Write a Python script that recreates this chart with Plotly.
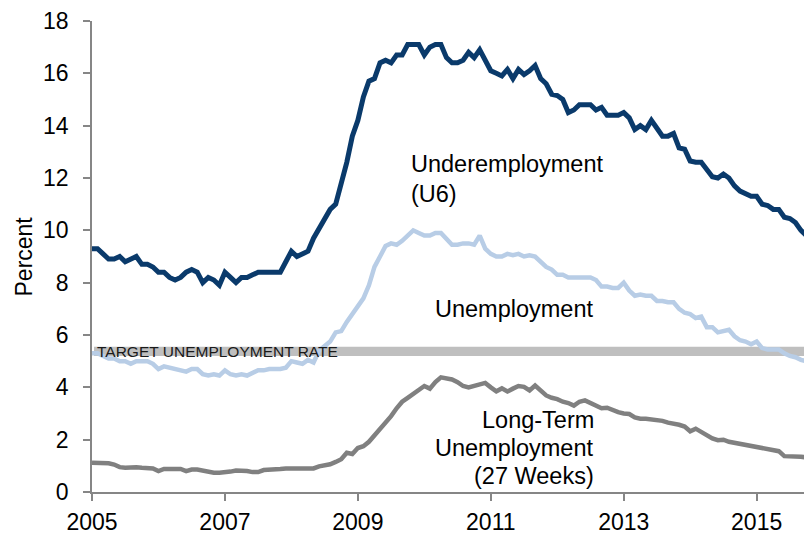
import plotly.graph_objects as go

start_year = 2005
months = list(range(131))  # Jan 2005 .. Nov 2015
x_vals = [start_year + m / 12 for m in months]

u6 = [
    9.3, 9.3, 9.1, 8.9, 8.9, 9.0, 8.8, 8.9, 9.0, 8.7, 8.7, 8.6,
    8.4, 8.4, 8.2, 8.1, 8.2, 8.4, 8.5, 8.4, 8.0, 8.2, 8.1, 7.9,
    8.4, 8.2, 8.0, 8.2, 8.2, 8.3, 8.4, 8.4, 8.4, 8.4, 8.4, 8.8,
    9.2, 9.0, 9.1, 9.2, 9.7, 10.1, 10.5, 10.8, 11.0, 11.8, 12.6, 13.6,
    14.2, 15.1, 15.7, 15.8, 16.4, 16.5, 16.4, 16.7, 16.7, 17.1, 17.1, 17.1,
    16.7, 17.0, 17.1, 17.1, 16.6, 16.4, 16.4, 16.5, 16.8, 16.6, 16.9, 16.5,
    16.1, 16.0, 15.9, 16.15, 15.8, 16.15, 15.95, 16.1, 16.3, 15.8, 15.6, 15.2,
    15.15, 15.0, 14.5, 14.6, 14.8, 14.8, 14.8, 14.6, 14.7, 14.4, 14.4, 14.4,
    14.5, 14.3, 13.85, 14.0, 13.85, 14.2, 13.9, 13.6, 13.6, 13.7, 13.15, 13.1,
    12.65, 12.6, 12.6, 12.3, 12.05, 12.0, 12.15, 12.0, 11.7, 11.5, 11.4, 11.3,
    11.3, 11.0, 10.95, 10.8, 10.8, 10.5, 10.45, 10.3, 10.0, 9.8, 9.85,
]

unemployment = [
    5.3, 5.3, 5.2, 5.1, 5.1, 5.0, 5.0, 4.9, 5.0, 5.0, 5.0, 4.9,
    4.7, 4.8, 4.75, 4.7, 4.65, 4.6, 4.7, 4.7, 4.5, 4.45, 4.5, 4.45,
    4.65, 4.5, 4.45, 4.5, 4.45, 4.55, 4.65, 4.65, 4.7, 4.7, 4.7, 4.75,
    5.0, 4.95, 4.9, 5.05, 4.95, 5.4, 5.6, 5.75, 6.1, 6.15, 6.5, 6.8,
    7.1, 7.4, 7.9, 8.6, 9.0, 9.4, 9.5, 9.45, 9.6, 9.8, 10.0, 9.9,
    9.8, 9.8, 9.9, 9.9, 9.7, 9.45, 9.45, 9.5, 9.5, 9.45, 9.8, 9.3,
    9.1, 9.0, 9.0, 9.1, 9.05, 9.1, 9.0, 9.05, 9.0, 8.8, 8.6, 8.5,
    8.3, 8.3, 8.2, 8.2, 8.2, 8.2, 8.2, 8.1, 7.85, 7.85, 7.8, 7.8,
    8.0, 7.7, 7.5, 7.55, 7.5, 7.5, 7.3, 7.3, 7.25, 7.25, 7.0, 6.85,
    6.8, 6.65, 6.7, 6.3, 6.3, 6.1, 6.15, 6.2, 5.95, 5.8, 5.75, 5.65,
    5.75, 5.5, 5.45, 5.45, 5.45, 5.3, 5.2, 5.15, 5.05, 5.0, 5.0,
]

long_term = [
    1.12, 1.12, 1.12, 1.10, 1.05, 0.95, 0.93, 0.95, 0.95, 0.93, 0.92, 0.90,
    0.80, 0.88, 0.88, 0.88, 0.88, 0.80, 0.86, 0.86, 0.82, 0.74, 0.74, 0.74,
    0.74, 0.78, 0.82, 0.82, 0.80, 0.76, 0.76, 0.84, 0.84, 0.86, 0.88, 0.90,
    0.88, 0.90, 0.90, 0.88, 0.90, 0.98, 1.02, 1.06, 1.15, 1.25, 1.50, 1.45,
    1.68, 1.75, 1.92, 2.15, 2.40, 2.62, 2.90, 3.20, 3.45, 3.60, 3.75, 3.95,
    4.05, 3.95, 4.20, 4.38, 4.35, 4.30, 4.20, 4.05, 4.00, 4.05, 4.10, 4.17,
    4.00, 3.85, 3.96, 3.84, 3.95, 4.05, 4.02, 3.88, 4.07, 3.85, 3.69, 3.60,
    3.55, 3.45, 3.40, 3.30, 3.45, 3.50, 3.40, 3.30, 3.20, 3.22, 3.12, 3.05,
    3.00, 2.98, 2.85, 2.80, 2.80, 2.78, 2.75, 2.72, 2.65, 2.62, 2.57, 2.50,
    2.32, 2.42, 2.30, 2.15, 2.05, 1.98, 2.00, 1.92, 1.88, 1.85, 1.80, 1.77,
    1.75, 1.70, 1.65, 1.60, 1.56, 1.37, 1.37, 1.37, 1.35, 1.32, 1.33,
]

target_low, target_high = 5.2, 5.55
x_ticks = [2005, 2007, 2009, 2011, 2013, 2015]
y_ticks = [0, 2, 4, 6, 8, 10, 12, 14, 16, 18]

FONT = "Liberation Sans, Arial, sans-serif"
PX_PER_UNIT = 475 / 18.0  # plot height / y range

fig = go.Figure()
fig.add_trace(go.Scatter(x=x_vals, y=long_term, mode="lines",
                         line=dict(color="#808080", width=4.5), hoverinfo="skip"))
fig.add_trace(go.Scatter(x=x_vals, y=unemployment, mode="lines",
                         line=dict(color="#B8CDE6", width=4.5), hoverinfo="skip"))
fig.add_trace(go.Scatter(x=x_vals, y=u6, mode="lines",
                         line=dict(color="#0A3A6B", width=5), hoverinfo="skip"))

fig.add_shape(type="rect", xref="x", yref="y", x0=2005.03, x1=2015.833,
              y0=target_low, y1=target_high, fillcolor="#BFBFBF",
              line=dict(width=0), layer="below")

def label(text, x, y_px, anchor="left", size=23.5):
    fig.add_annotation(x=x, y=(494 - y_px) / PX_PER_UNIT, xref="x", yref="y", text=text,
                       showarrow=False, xanchor=anchor, yanchor="middle",
                       font=dict(family=FONT, size=size, color="#000000"))

label("Underemployment", 2009.77, 163)
label("(U6)", 2009.77, 193)
label("Unemployment", 2010.13, 309)
label("Long-Term", 2012.58, 421.7, anchor="right")
label("Unemployment", 2012.58, 450, anchor="right")
label("(27 Weeks)", 2012.58, 478.3, anchor="right")
fig.add_annotation(x=2005.04, y=5.36, xref="x", yref="y", text="TARGET UNEMPLOYMENT RATE",
                   showarrow=False, xanchor="left", yanchor="middle",
                   font=dict(family=FONT, size=15.5, color="#1a1a1a"))

fig.add_annotation(x=0, y=0.5, xref="paper", yref="paper", text="Percent",
                   textangle=-90, showarrow=False, xanchor="center", yanchor="middle",
                   xshift=-69, font=dict(family=FONT, size=23, color="#000000"))

# page body has an 8px default margin, so the figure is 8px smaller each way
fig.update_layout(
    width=804, height=527,
    margin=dict(l=84, r=0, t=11, b=41, pad=0),
    plot_bgcolor="white", paper_bgcolor="white",
    showlegend=False,
    font=dict(family=FONT, size=23, color="#000000"),
)
fig.update_xaxes(range=[2005, 2015.833], tickvals=x_ticks, ticktext=[str(t) for t in x_ticks],
                 showgrid=False, zeroline=False, showline=True, linecolor="#868686",
                 linewidth=1.5, ticks="outside", ticklen=7, tickcolor="#868686",
                 tickwidth=1.5, ticklabeloverflow="allow", ticklabelstandoff=2,
                 tickfont=dict(family=FONT, size=23, color="#000000"))
fig.update_yaxes(range=[0, 18], tickvals=y_ticks, showgrid=False, zeroline=False,
                 showline=True, linecolor="#868686", linewidth=1.5, ticks="outside",
                 ticklen=7, tickcolor="#868686", tickwidth=1.5,
                 ticklabeloverflow="allow", ticklabelstandoff=10,
                 tickfont=dict(family=FONT, size=23, color="#000000"))

fig.write_html("out.html")
